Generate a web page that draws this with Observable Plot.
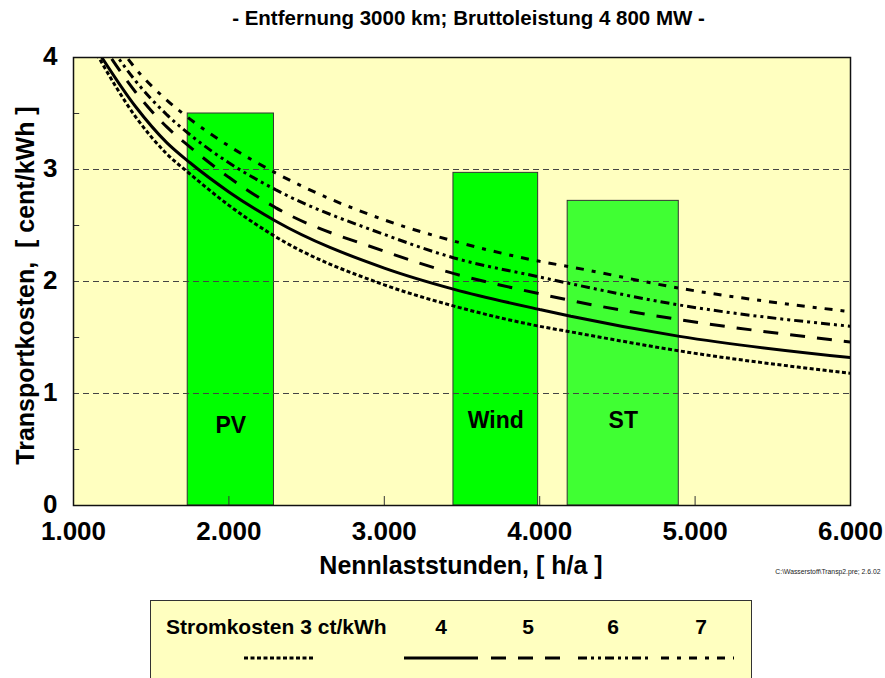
<!DOCTYPE html>
<html>
<head>
<meta charset="utf-8">
<script src="https://cdn.jsdelivr.net/npm/d3@7"></script>
<script src="https://cdn.jsdelivr.net/npm/@observablehq/plot@0.6"></script>
<style>
  body { margin: 0; background: #ffffff; font-family: "Liberation Sans", Arial, sans-serif; }
  #title { position: absolute; left: 0; top: 0; width: 885px; height: 36px; line-height: 36px; text-align: center; font-weight: bold; font-size: 20.5px; padding-left: 52px; box-sizing: border-box; }
  #chart { position: absolute; left: 0; top: 40px; }
  #legend { position: absolute; left: 150px; top: 600px; width: 600px; height: 100px; background: #FFFFC0; border: 1px solid #333; }
</style>
</head>
<body>
<div id="title">- Entfernung 3000 km; Bruttoleistung 4 800 MW -</div>
<div id="chart"></div>
<div id="legend"></div>
<script>
// ---- data ----
const hours = [1150, 1400, 1600, 1750, 2000, 2300, 3000, 3450, 4000, 4200, 4900, 6000];
const cost3 = [4.03, 3.47, 3.14, 2.96, 2.68, 2.40, 1.97, 1.78, 1.60, 1.55, 1.38, 1.18];
const cost4 = [4.07, 3.56, 3.24, 3.06, 2.80, 2.54, 2.12, 1.93, 1.75, 1.69, 1.51, 1.32];
const cost5 = [4.19, 3.69, 3.38, 3.20, 2.93, 2.66, 2.27, 2.07, 1.89, 1.83, 1.66, 1.46];
const cost6 = [4.28, 3.79, 3.49, 3.31, 3.06, 2.82, 2.42, 2.21, 2.04, 1.98, 1.79, 1.60];
const cost7 = [4.40, 3.90, 3.62, 3.45, 3.21, 2.97, 2.55, 2.36, 2.18, 2.13, 1.94, 1.73];
const seriesNames = ["3", "4", "5", "6", "7"];
const legendLabels = ["Stromkosten 3 ct/kWh", "4", "5", "6", "7"];

const barNames = ["PV", "Wind", "ST"];
const barStart = [1735, 3445, 4180];
const barEnd = [2290, 3990, 4895];
const barHeight = [3.5, 2.97, 2.72];
const barLabelY = [0.71, 0.76, 0.76];

const xTicks = [1000, 2000, 3000, 4000, 5000, 6000];
const xTickLabels = ["1.000", "2.000", "3.000", "4.000", "5.000", "6.000"];
const yTicks = [0, 1, 2, 3, 4];
const yTickLabels = ["0", "1", "2", "3", "4"];
const yGrid = [1, 2, 3];
const yMinor = [0.5, 1.5, 2.5, 3.5];
const xMinor = [2000, 3000, 4000, 5000];

// ---- styles ----
const dashes = ["4,2.5", null, "15,12", "9,4,3,4,3,4", "8,8,4,8"];
const barFills = ["#00FF00", "#00FF00", "#40FF33"];
const FONT = "Liberation Sans, Arial, sans-serif";

const costs = [cost3, cost4, cost5, cost6, cost7];
const series = seriesNames.map((name, k) => hours.map((h, i) => ({h, v: costs[k][i], s: name})));
const bars = barNames.map((n, i) => ({name: n, x1: barStart[i], x2: barEnd[i], y: barHeight[i], ly: barLabelY[i], fill: barFills[i]}));

const chart = Plot.plot({
  width: 885,
  height: 550,
  marginTop: 17,
  marginBottom: 85,
  marginLeft: 73,
  marginRight: 35,
  style: {fontFamily: FONT, background: "transparent", overflow: "visible"},
  x: {domain: [1000, 6000], axis: null},
  y: {domain: [0, 4], axis: null},
  marks: [
    Plot.frame({fill: "#FFFFC0"}),
    Plot.rect(bars, {x1: "x1", x2: "x2", y1: 0, y2: "y", fill: "fill", stroke: "#333", strokeWidth: 1}),
    Plot.ruleY(yGrid, {stroke: "#444", strokeWidth: 1, strokeDasharray: "6,4"}),
    Plot.ruleY(yMinor, {x1: 1000, x2: 1040, stroke: "#333", strokeWidth: 1}),
    Plot.ruleX(xMinor, {y1: 0, y2: 0.08, stroke: "#333", strokeWidth: 1}),
    Plot.text(bars, {x: d => (d.x1 + d.x2) / 2, y: "ly", text: "name", fontSize: 23, fontWeight: "bold", fill: "black"}),
    ...series.map((data, k) => Plot.line(data, {
      x: "h", y: "v", curve: "monotone-x", stroke: "black", strokeWidth: 3,
      strokeDasharray: dashes[k], strokeLinecap: "butt", strokeLinejoin: "miter", clip: true
    })),
    Plot.frame({stroke: "#111", strokeWidth: 1.5}),
    Plot.text(xTicks, {x: d => d, y: 0, dy: 26, text: (d, i) => xTickLabels[i], fontSize: 26, fontWeight: "bold", lineAnchor: "middle", fill: "black"}),
    Plot.text(yTicks, {x: 1000, y: d => d, dx: -16, dy: -1, text: (d, i) => yTickLabels[i], fontSize: 26, fontWeight: "bold", textAnchor: "end", lineAnchor: "middle", fill: "black"}),
    Plot.text(["Transportkosten,  [ cent/kWh ]"], {frameAnchor: "left", dx: -48, dy: 4, rotate: -90, textAnchor: "middle", lineAnchor: "middle", fontSize: 25, fontWeight: "bold", fill: "black"}),
    Plot.text(["Nennlaststunden, [ h/a ]"], {frameAnchor: "bottom", dy: 60, dx: -1, textAnchor: "middle", lineAnchor: "middle", fontSize: 25, fontWeight: "bold", fill: "black"}),
    Plot.text(["C:\\Wasserstoff\\Transp2.pre; 2.6.02"], {frameAnchor: "bottom-right", dy: 66, dx: 30, textAnchor: "end", lineAnchor: "middle", fontSize: 6.8, fill: "#222"})
  ]
});
document.getElementById("chart").appendChild(chart);

// ---- legend ----
const lg = d3.select("#legend").append("svg").attr("width", 600).attr("height", 100)
  .style("font-family", FONT);
const labelX = [15, 290, 377, 462, 550];
const lineX = [[93, 163], [253, 327], [340, 415], [427, 500], [510, 583]];
legendLabels.forEach((t, i) => {
  lg.append("text").attr("x", labelX[i]).attr("y", 33)
    .attr("text-anchor", i === 0 ? "start" : "middle")
    .attr("font-size", 21).attr("font-weight", "bold").text(t);
  const ln = lg.append("line").attr("x1", lineX[i][0]).attr("x2", lineX[i][1])
    .attr("y1", 57).attr("y2", 57).attr("stroke", "black").attr("stroke-width", 3);
  if (dashes[i]) ln.attr("stroke-dasharray", dashes[i]);
});
</script>
</body>
</html>
